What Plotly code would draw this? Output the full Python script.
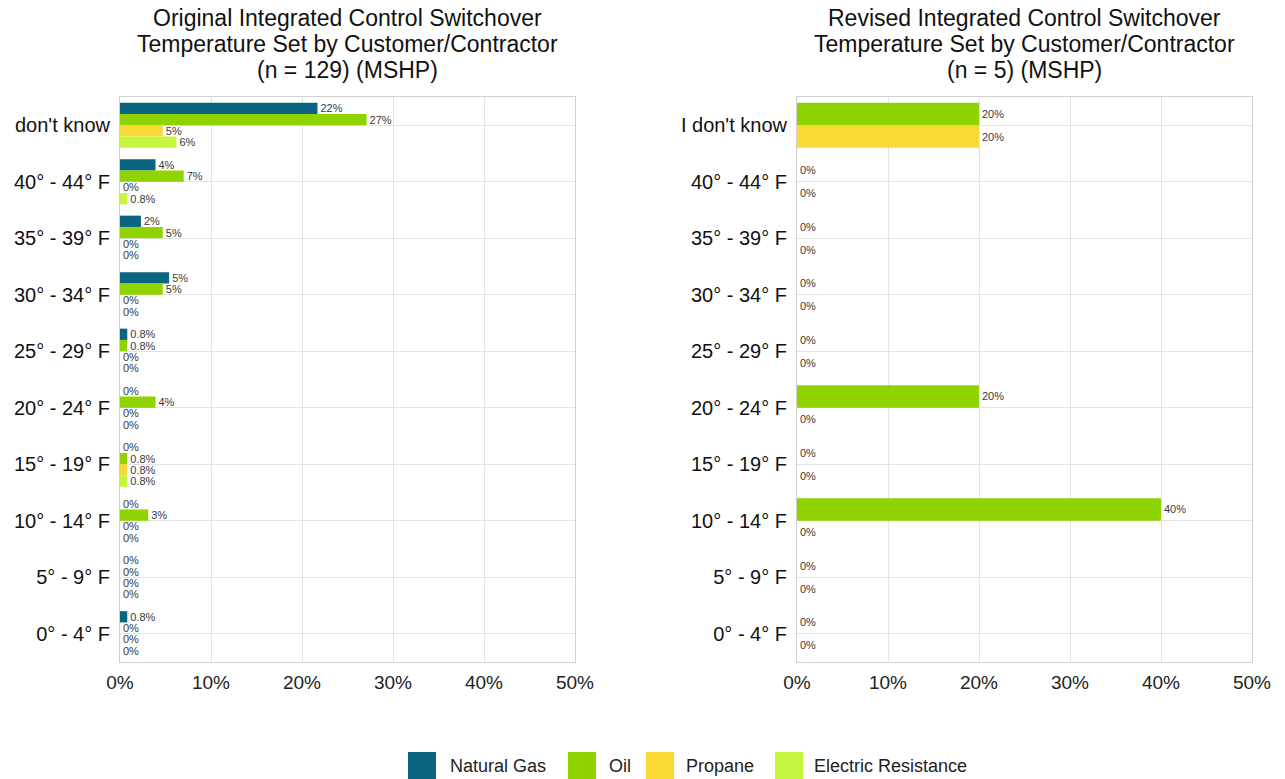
import plotly.graph_objects as go

# Switchover temperature bins, top to bottom
bins_original = ["don't know", "40° - 44° F", "35° - 39° F", "30° - 34° F", "25° - 29° F",
                 "20° - 24° F", "15° - 19° F", "10° - 14° F", "5° - 9° F", "0° - 4° F"]
bins_revised = ["I don't know", "40° - 44° F", "35° - 39° F", "30° - 34° F", "25° - 29° F",
                "20° - 24° F", "15° - 19° F", "10° - 14° F", "5° - 9° F", "0° - 4° F"]

# Original setting (n = 129), percent of respondents by fuel type
orig_natural_gas = [21.7, 3.9, 2.3, 5.4, 0.8, 0.0, 0.0, 0.0, 0.0, 0.8]
orig_oil = [27.1, 7.0, 4.7, 4.7, 0.8, 3.9, 0.8, 3.1, 0.0, 0.0]
orig_propane = [4.7, 0.0, 0.0, 0.0, 0.0, 0.0, 0.8, 0.0, 0.0, 0.0]
orig_electric = [6.2, 0.8, 0.0, 0.0, 0.0, 0.0, 0.8, 0.0, 0.0, 0.0]

# Revised setting (n = 5)
rev_oil = [20.0, 0.0, 0.0, 0.0, 0.0, 20.0, 0.0, 40.0, 0.0, 0.0]
rev_propane = [20.0, 0.0, 0.0, 0.0, 0.0, 0.0, 0.0, 0.0, 0.0, 0.0]

x_ticks = [0, 10, 20, 30, 40, 50]
x_tick_labels = ["0%", "10%", "20%", "30%", "40%", "50%"]

fuel_names = ["Natural Gas", "Oil", "Propane", "Electric Resistance"]
COLORS = {
    "Natural Gas": "#0b6580",
    "Oil": "#8fd400",
    "Propane": "#f8d935",
    "Electric Resistance": "#c5f53d",
}
FONT = "Liberation Sans, Arial, sans-serif"
W, H = 1285, 779


def pct_label(v):
    if 0 < v < 1:
        return f"{v:.1f}%"
    return f"{round(v):.0f}%"


fig = go.Figure()

left_series = [orig_natural_gas, orig_oil, orig_propane, orig_electric]
for name, vals in zip(fuel_names, left_series):
    fig.add_trace(go.Bar(
        y=bins_original, x=vals, orientation="h", name=name,
        marker=dict(color=COLORS[name], line=dict(width=0)),
        text=[pct_label(v) for v in vals], textposition="outside",
        textfont=dict(size=11, color="#3a3a3a", family=FONT),
        constraintext="none", cliponaxis=False,
        xaxis="x", yaxis="y", showlegend=False,
    ))

right_series = [("Oil", rev_oil), ("Propane", rev_propane)]
for name, vals in right_series:
    fig.add_trace(go.Bar(
        y=bins_revised, x=vals, orientation="h", name=name,
        marker=dict(color=COLORS[name], line=dict(width=0)),
        text=[pct_label(v) for v in vals], textposition="outside",
        textfont=dict(size=11, color="#3a3a3a", family=FONT),
        constraintext="none", cliponaxis=False,
        xaxis="x2", yaxis="y2", showlegend=False,
    ))

left_dom = [120 / W, 575 / W]
right_dom = [797 / W, 1252 / W]
y_dom = [1 - 662 / H, 1 - 97 / H]

xaxis_common = dict(
    range=[0, 50], tickvals=x_ticks, ticktext=x_tick_labels,
    showgrid=True, gridcolor="#e3e3e3", gridwidth=1,
    showline=True, linecolor="#d0d0d0", linewidth=1, mirror=True,
    zeroline=False, ticks="", ticklabelstandoff=3, automargin=False,
    tickfont=dict(size=19, color="#222222", family=FONT),
    fixedrange=True,
)
yaxis_common = dict(
    autorange="reversed", type="category",
    showgrid=True, gridcolor="#e3e3e3", gridwidth=1,
    showline=True, linecolor="#d0d0d0", linewidth=1, mirror=True,
    ticks="", ticklabelstandoff=5, automargin=False,
    tickfont=dict(size=20, color="#111111", family=FONT),
    fixedrange=True,
)

# Panel titles, one annotation per line
titles = [
    (347, ["Original Integrated Control Switchover",
           "Temperature Set by Customer/Contractor",
           "(n = 129) (MSHP)"]),
    (1024, ["Revised Integrated Control Switchover",
            "Temperature Set by Customer/Contractor",
            "(n = 5) (MSHP)"]),
]
annotations = []
for cx, lines in titles:
    for i, line in enumerate(lines):
        annotations.append(dict(
            text=line, x=cx / W, y=1 - (18 + 26 * i) / H,
            xref="paper", yref="paper", xanchor="center", yanchor="middle",
            showarrow=False, font=dict(size=23, color="#111111", family=FONT)))

# Legend: colour swatches with labels along the bottom
shapes = []
legend_swatch_x = [408, 568, 646, 775]
legend_text_x = [448, 607, 684, 812]
for name, sx, tx in zip(fuel_names, legend_swatch_x, legend_text_x):
    shapes.append(dict(
        type="rect", xref="paper", yref="paper",
        x0=sx / W, x1=(sx + 28) / W, y0=0, y1=1 - 752 / H,
        fillcolor=COLORS[name], line=dict(width=0)))
    annotations.append(dict(
        text=name, x=tx / W, y=1 - 766 / H, xref="paper", yref="paper",
        xanchor="left", yanchor="middle", showarrow=False,
        font=dict(size=18, color="#222222", family=FONT)))

fig.update_layout(
    width=W, height=H,
    margin=dict(l=0, r=0, t=0, b=0),
    paper_bgcolor="white", plot_bgcolor="white",
    barmode="group", bargap=0.2, bargroupgap=0,
    font=dict(family=FONT, color="#111111"),
    showlegend=False,
    xaxis=dict(domain=left_dom, anchor="y", **xaxis_common),
    yaxis=dict(domain=y_dom, anchor="x", **yaxis_common),
    xaxis2=dict(domain=right_dom, anchor="y2", **xaxis_common),
    yaxis2=dict(domain=y_dom, anchor="x2", **yaxis_common),
    annotations=annotations,
    shapes=shapes,
)

fig.write_html("out.html")
